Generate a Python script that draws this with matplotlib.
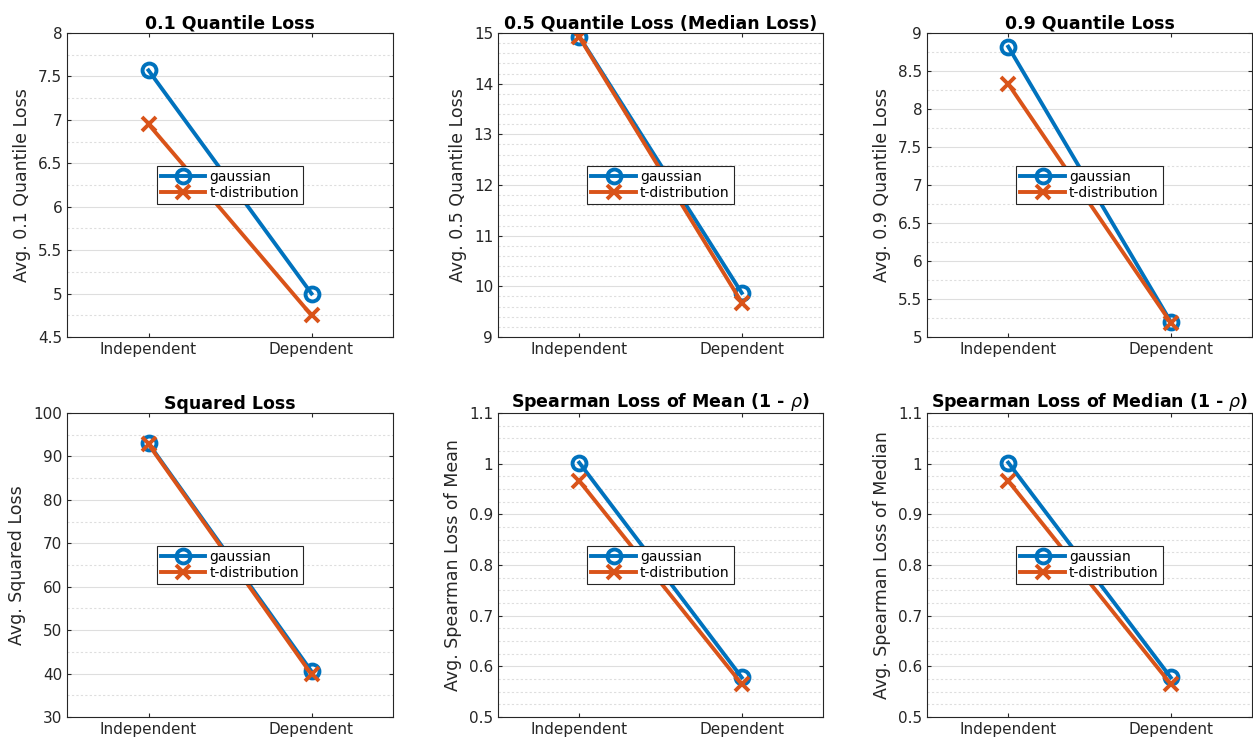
import numpy as np
import matplotlib
matplotlib.use('Agg')
import matplotlib.pyplot as plt
from matplotlib.ticker import MultipleLocator

plt.rcParams['font.family'] = 'DejaVu Sans'
plt.rcParams['mathtext.fontset'] = 'dejavusans'

conditions = ['Independent', 'Dependent']

titles = ['0.1 Quantile Loss', '0.5 Quantile Loss (Median Loss)', '0.9 Quantile Loss',
          'Squared Loss', r'Spearman Loss of Mean (1 - $\rho$)', r'Spearman Loss of Median (1 - $\rho$)']
ylabels = ['Avg. 0.1 Quantile Loss', 'Avg. 0.5 Quantile Loss', 'Avg. 0.9 Quantile Loss',
           'Avg. Squared Loss', 'Avg. Spearman Loss of Mean', 'Avg. Spearman Loss of Median']

gaussian = [[7.57, 5.00], [14.93, 9.87], [8.82, 5.20],
            [93.0, 40.5], [1.002, 0.578], [1.002, 0.578]]
tdist = [[6.95, 4.75], [14.92, 9.68], [8.33, 5.19],
         [92.8, 39.8], [0.966, 0.565], [0.966, 0.565]]

ylims = [(4.5, 8), (9, 15), (5, 9), (30, 100), (0.5, 1.1), (0.5, 1.1)]
major = [0.5, 1, 0.5, 10, 0.1, 0.1]
minor = [0.25, 0.2, 0.25, 5, 0.025, 0.025]

# axes boxes in pixels: left, right, top, bottom
W, H = 1253, 747
lefts = [67, 498, 927]
rights = [393, 823, 1252]
tops = [33, 413]
bottoms = [337, 717]

blue = '#0072BD'
orange = '#D95319'

fig = plt.figure(figsize=(W / 100, H / 100), dpi=100)

for i in range(6):
    r, c = divmod(i, 3)
    rect = [lefts[c] / W, 1 - bottoms[r] / H, (rights[c] - lefts[c]) / W, (bottoms[r] - tops[r]) / H]
    ax = fig.add_axes(rect)
    x = np.arange(1, len(conditions) + 1)
    ax.plot(x, gaussian[i], color=blue, lw=2.8, marker='o', ms=10, mfc='none', mew=2.8, label='gaussian')
    ax.plot(x, tdist[i], color=orange, lw=2.8, marker='x', ms=10, mew=2.8, label='t-distribution')
    ax.set_xlim(0.5, 2.5)
    ax.set_ylim(*ylims[i])
    ax.set_xticks(x)
    ax.set_xticklabels(conditions)
    ax.yaxis.set_major_locator(MultipleLocator(major[i]))
    ax.yaxis.set_minor_locator(MultipleLocator(minor[i]))
    ax.yaxis.set_major_formatter(matplotlib.ticker.FuncFormatter(lambda v, p: ('%g' % round(v, 6))))
    ax.grid(True, which='major', axis='y', color='#dedede', lw=0.8)
    ax.grid(True, which='minor', axis='y', color='#dedede', lw=0.8, ls=(0, (2, 2)))
    ax.set_axisbelow(True)
    ax.tick_params(which='both', direction='in', top=True, right=True, labelsize=11, colors='#262626')
    ax.tick_params(which='minor', length=0)
    ax.tick_params(which='major', length=3)
    for s in ax.spines.values():
        s.set_color('#262626')
        s.set_linewidth(0.8)
    ax.set_title(titles[i], fontsize=12.5, fontweight='bold', pad=3)
    ax.set_ylabel(ylabels[i], fontsize=12.5, color='#262626', labelpad=5)
    leg = ax.legend(loc='center', fontsize=10, fancybox=False, framealpha=1,
                    edgecolor='#262626', handlelength=3.2, borderpad=0.3, labelspacing=0.15,
                    handletextpad=0.3)
    leg.get_frame().set_linewidth(0.8)

fig.savefig('out.png', dpi=100)
